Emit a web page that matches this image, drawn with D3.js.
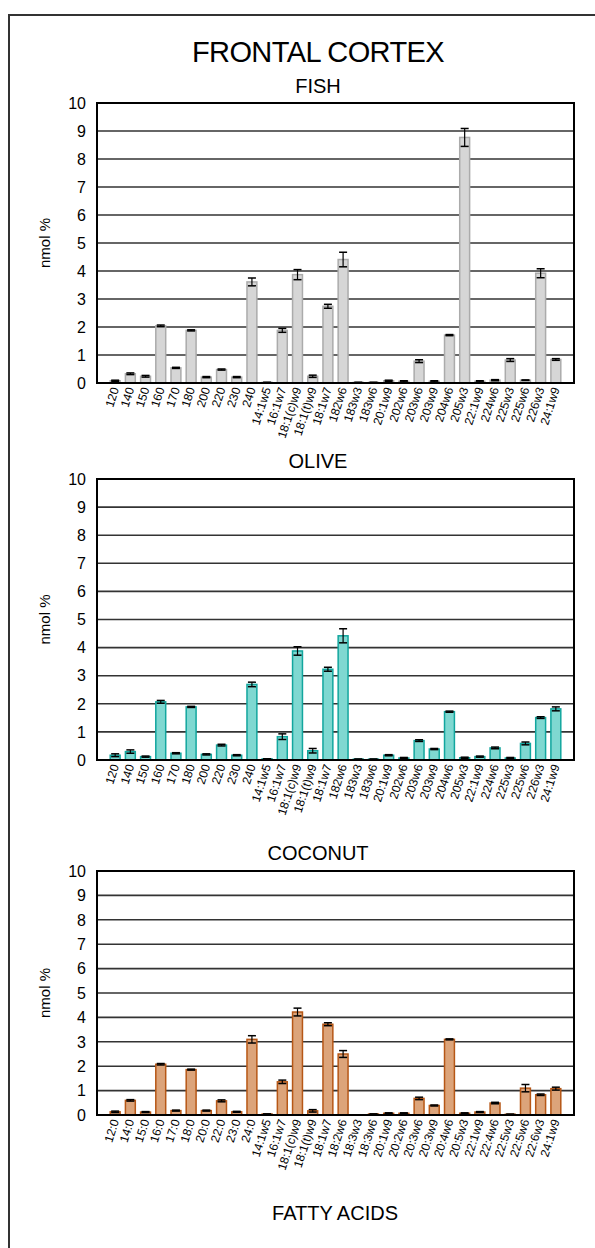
<!DOCTYPE html>
<meta charset="utf-8">
<style>
body { margin: 0; background: #fff; }
text { font-family: "Liberation Sans", Arial, sans-serif; fill: #000; }
</style>
<body>
<script src="https://d3js.org/d3.v7.min.js"></script>
<script>

// category labels (fish and olive panels print them without most colons)
var labelsA = ["120","140","150","160","170","180","200","220","230","240",
  "14:1w5","16:1w7","18:1(c)w9","18:1(t)w9","18:1w7","182w6","183w3","183w6",
  "20:1w9","202w6","203w6","203w9","204w6","205w3","22:1w9","224w6","225w3",
  "225w6","226w3","24:1w9"];
var labelsB = ["12:0","14:0","15:0","16:0","17:0","18:0","20:0","22:0","23:0","24:0",
  "14:1w5","16:1w7","18:1(c)w9","18:1(t)w9","18:1w7","18:2w6","18:3w3","18:3w6",
  "20:1w9","20:2w6","20:3w6","20:3w9","20:4w6","20:5w3","22:1w9","22:4w6","22:5w3",
  "22:5w6","22:6w3","24:1w9"];

var yTicks = [0,1,2,3,4,5,6,7,8,9,10];

var fishVals = [0.08,0.33,0.24,2.04,0.54,1.88,0.21,0.48,0.21,3.61,
  0.02,1.88,3.87,0.24,2.74,4.41,0.02,0.02,0.08,0.06,0.78,0.06,1.71,8.77,
  0.06,0.1,0.82,0.1,3.92,0.84];
var fishErr = [0.02,0.03,0.03,0.03,0.02,0.02,0.02,0.02,0.02,0.14,
  0,0.07,0.18,0.04,0.07,0.26,0,0,0.02,0.02,0.05,0.02,0.02,0.32,
  0.02,0.02,0.05,0.01,0.16,0.03];

var oliveVals = [0.17,0.3,0.12,2.07,0.24,1.89,0.2,0.53,0.17,2.69,
  0.04,0.83,3.88,0.33,3.23,4.42,0.03,0.03,0.17,0.07,0.69,0.39,1.72,0.08,
  0.12,0.43,0.07,0.59,1.51,1.82];
var oliveErr = [0.05,0.06,0.02,0.05,0.02,0.02,0.02,0.03,0.02,0.08,
  0,0.1,0.15,0.08,0.07,0.25,0,0,0.02,0.02,0.03,0.02,0.02,0.02,
  0.02,0.03,0.02,0.05,0.03,0.07];

var coconutVals = [0.13,0.6,0.12,2.08,0.18,1.86,0.18,0.58,0.13,3.1,
  0.04,1.36,4.22,0.17,3.72,2.5,0.01,0.04,0.07,0.07,0.68,0.39,3.1,0.07,
  0.12,0.49,0.03,1.1,0.83,1.08];
var coconutErr = [0.03,0.03,0.02,0.03,0.02,0.02,0.02,0.04,0.02,0.15,
  0,0.07,0.16,0.05,0.06,0.14,0,0,0.02,0.02,0.05,0.02,0.02,0.02,
  0.02,0.03,0,0.15,0.03,0.06];

var W = 595, H = 1248;
var left = 97, right = 574;

var panels = [
  {title: "FISH", titleY: 93, top: 103, bottom: 383, yLab: "nmol %",
   labels: labelsA, vals: fishVals, err: fishErr, fill: "#d6d6d6", stroke: "#ababab"},
  {title: "OLIVE", titleY: 468, top: 479, bottom: 760, yLab: "nmol %",
   labels: labelsA, vals: oliveVals, err: oliveErr, fill: "#7fd8d1", stroke: "#12a69e"},
  {title: "COCONUT", titleY: 860, top: 871, bottom: 1115, yLab: "nmol  %",
   labels: labelsB, vals: coconutVals, err: coconutErr, fill: "#dca47a", stroke: "#b65716"}
];

var svg = d3.select("body").append("svg")
  .attr("width", W)
  .attr("height", H);

// outer frame, runs off the right and bottom of the picture
svg.append("rect")
  .attr("x", 9).attr("y", 15)
  .attr("width", 640).attr("height", 1300)
  .attr("fill", "none")
  .attr("stroke", "#333")
  .attr("stroke-width", 2);

svg.append("text")
  .attr("x", 318).attr("y", 62)
  .attr("text-anchor", "middle")
  .style("font-size", "29px")
  .style("letter-spacing", "-0.6px")
  .text("FRONTAL CORTEX");

panels.forEach(function(p) {
  var x = d3.scaleBand()
    .domain(d3.range(p.vals.length))
    .range([left, right])
    .paddingInner(0.25)
    .paddingOuter(0.82);

  var y = d3.scaleLinear()
    .domain([0, 10])
    .range([p.bottom, p.top]);

  var g = svg.append("g");

  g.append("text")
    .attr("x", 318).attr("y", p.titleY)
    .attr("text-anchor", "middle")
    .style("font-size", "20px")
    .text(p.title);

  // gridlines
  g.selectAll(".grid")
    .data(yTicks.filter(function(d) { return d > 0 && d < 10; }))
    .enter().append("line")
    .attr("x1", left).attr("x2", right)
    .attr("y1", function(d) { return y(d); })
    .attr("y2", function(d) { return y(d); })
    .attr("stroke", "#333")
    .attr("stroke-width", 1.6);

  // y tick labels
  g.selectAll(".ytick")
    .data(yTicks)
    .enter().append("text")
    .attr("x", 86)
    .attr("y", function(d) { return y(d); })
    .attr("dy", "0.36em")
    .attr("text-anchor", "end")
    .style("font-size", "16px")
    .text(function(d) { return d; });

  g.append("text")
    .attr("transform", "translate(50," + ((p.top + p.bottom) / 2) + ") rotate(-90)")
    .attr("text-anchor", "middle")
    .style("font-size", "15px")
    .text(p.yLab);

  // bars
  g.selectAll(".bar")
    .data(p.vals)
    .enter().append("rect")
    .attr("x", function(d, i) { return x(i) + 0.75; })
    .attr("width", x.bandwidth() - 1.5)
    .attr("y", function(d) { return y(d); })
    .attr("height", function(d) { return p.bottom - y(d); })
    .attr("fill", p.fill)
    .attr("stroke", p.stroke)
    .attr("stroke-width", 1.5);

  // error bars
  var eb = g.selectAll(".err")
    .data(p.vals)
    .enter().append("g")
    .attr("transform", function(d, i) { return "translate(" + (x(i) + x.bandwidth() / 2) + ",0)"; });

  eb.append("line")
    .attr("y1", function(d, i) { return y(d + p.err[i]); })
    .attr("y2", function(d, i) { return y(Math.max(0, d - p.err[i])); })
    .attr("stroke", "#000").attr("stroke-width", 1.2);
  eb.append("line")
    .attr("x1", -4).attr("x2", 4)
    .attr("y1", function(d, i) { return y(d + p.err[i]); })
    .attr("y2", function(d, i) { return y(d + p.err[i]); })
    .attr("stroke", "#000").attr("stroke-width", 1.5);
  eb.append("line")
    .attr("x1", -4).attr("x2", 4)
    .attr("y1", function(d, i) { return y(Math.max(0, d - p.err[i])); })
    .attr("y2", function(d, i) { return y(Math.max(0, d - p.err[i])); })
    .attr("stroke", "#000").attr("stroke-width", 1.5);

  // plot frame
  g.append("rect")
    .attr("x", left).attr("y", p.top)
    .attr("width", right - left).attr("height", p.bottom - p.top)
    .attr("fill", "none")
    .attr("stroke", "#000")
    .attr("stroke-width", 2);

  // rotated category labels
  g.selectAll(".xlab")
    .data(p.labels)
    .enter().append("text")
    .attr("transform", function(d, i) {
      return "translate(" + (x(i) + x.bandwidth() / 2 + 4) + "," + (p.bottom + 6) + ") rotate(-72)";
    })
    .attr("text-anchor", "end")
    .style("font-size", "12px")
    .text(function(d) { return d; });
});

svg.append("text")
  .attr("x", 335).attr("y", 1220)
  .attr("text-anchor", "middle")
  .style("font-size", "20px")
  .text("FATTY ACIDS");

</script>
</body>
